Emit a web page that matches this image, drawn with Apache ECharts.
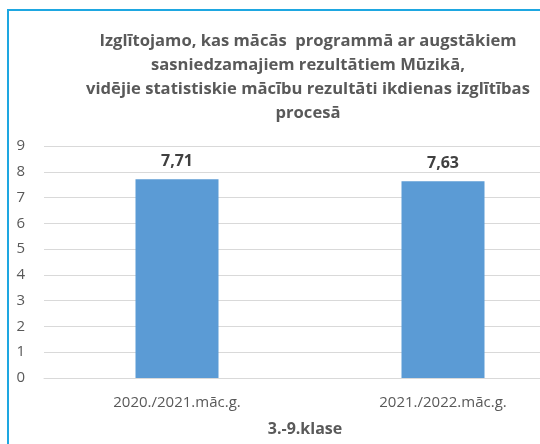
<!DOCTYPE html>
<html>
<head>
<meta charset="utf-8">
<script src="https://cdn.jsdelivr.net/npm/echarts@6/dist/echarts.min.js"></script>
<style>
  html, body { margin: 0; padding: 0; background: #fff; }
  #chart { width: 540px; height: 444px; }
</style>
</head>
<body>
<div id="chart"></div>
<script>
// Data
var categories = ['2020./2021.māc.g.', '2021./2022.māc.g.'];
var values = [7.71, 7.63];
var yTicks = [0, 1, 2, 3, 4, 5, 6, 7, 8, 9];

var titleText = 'Izglītojamo, kas mācās  programmā ar augstākiem\n' +
    'sasniedzamajiem rezultātiem Mūzikā,\n' +
    'vidējie statistiskie mācību rezultāti ikdienas izglītības\n' +
    'procesā';

var chart = echarts.init(document.getElementById('chart'));

chart.setOption({
    animation: false,
    textStyle: { fontFamily: 'Open Sans, sans-serif' },
    graphic: [
        {
            type: 'rect',
            shape: { x: 8, y: 10, width: 600, height: 500 },
            style: { fill: 'none', stroke: '#1ea7e1', lineWidth: 2 },
            silent: true
        }
    ],
    title: [
        {
            text: titleText,
            left: 303,
            top: 24,
            textAlign: 'center',
            textStyle: {
                fontSize: 16.6,
                fontWeight: 'bold',
                color: '#595959',
                lineHeight: 24,
                align: 'center'
            }
        },
        {
            text: '3.-9.klase',
            left: 300,
            top: 416,
            textAlign: 'center',
            textStyle: { fontSize: 16, fontWeight: 'bold', color: '#595959' }
        }
    ],
    grid: { left: 44, right: -36, top: 146, bottom: 66, outerBoundsMode: 'none', containLabel: false },
    xAxis: {
        type: 'category',
        data: categories,
        axisTick: { show: false },
        axisLine: { lineStyle: { color: '#d9d9d9' } },
        axisLabel: { color: '#595959', fontSize: 15, margin: 17 }
    },
    yAxis: {
        type: 'value',
        min: yTicks[0],
        max: yTicks[yTicks.length - 1],
        interval: 1,
        axisLine: { show: false },
        axisTick: { show: false },
        splitLine: { lineStyle: { color: '#d9d9d9' } },
        axisLabel: { color: '#595959', fontSize: 15, margin: 19 }
    },
    series: [
        {
            type: 'bar',
            data: values,
            barWidth: 83,
            itemStyle: { color: '#5b9bd5' },
            label: {
                show: true,
                position: 'top',
                distance: 10,
                color: '#404040',
                fontSize: 16,
                fontWeight: 'bold',
                formatter: function (p) {
                    return p.value.toFixed(2).replace('.', ',');
                }
            }
        }
    ]
});
</script>
</body>
</html>
